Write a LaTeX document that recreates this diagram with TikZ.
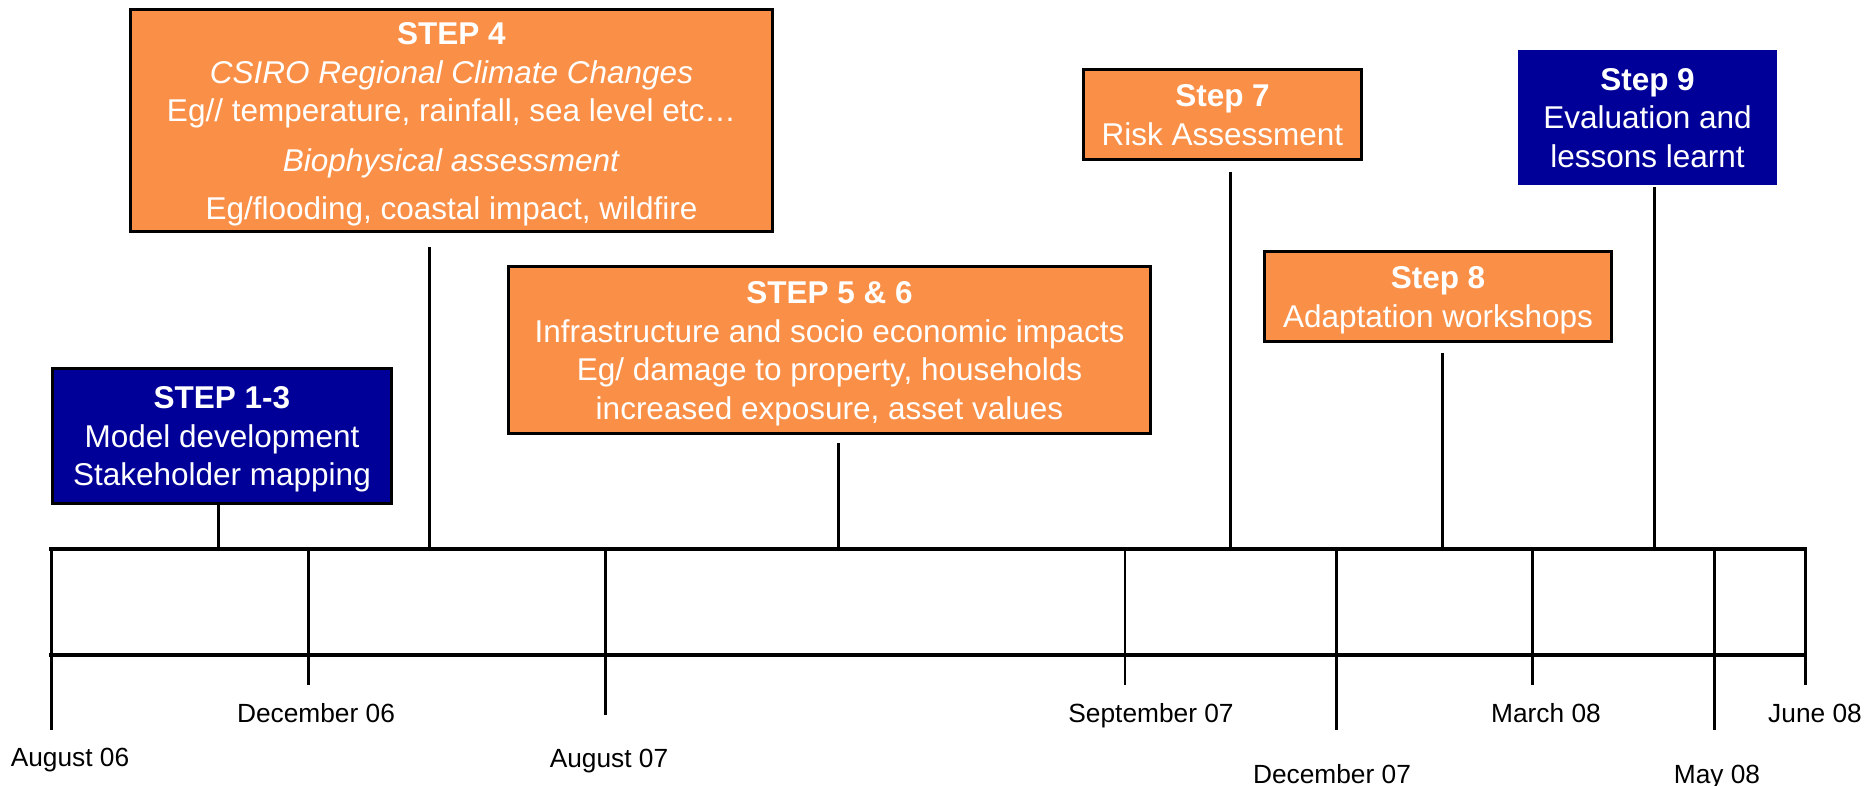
\documentclass[tikz,border=0pt]{standalone}
\usepackage{fontspec}
\setmainfont{Liberation Sans}
\definecolor{boxorange}{RGB}{250,144,72}
\definecolor{boxblue}{RGB}{0,0,153}
\newcommand{\topstrut}{\rule{0pt}{30pt}}
\newcommand{\botstrut}{\rule[-7.45pt]{0pt}{7.45pt}}
\begin{document}
\begin{tikzpicture}[x=1pt,y=-1pt,
  stepbox/.style={draw=black, line width=3pt, inner sep=0pt, align=center, text=white,
    font=\fontsize{31.5}{38.5}\selectfont},
  orangebox/.style={stepbox, fill=boxorange},
  bluebox/.style={stepbox, fill=boxblue},
  conn/.style={line width=3pt},
  axisline/.style={line width=3.5pt, line cap=rect},
  tickline/.style={line width=3pt},
  datelabel/.style={anchor=base, inner sep=0pt, font=\fontsize{26.3}{30}\selectfont}
]
\useasboundingbox (0,0) rectangle (1870,786);

% boxes
\node[bluebox, minimum width=339pt, minimum height=135pt] (s13) at (222,436)
  {{\bfseries\topstrut STEP 1-3}\\Model development\\Stakeholder mapping\botstrut};
\node[orangebox, minimum width=642pt, minimum height=222pt] (s4) at (451.5,120.5)
  {{\bfseries\topstrut STEP 4}\\\textit{CSIRO Regional Climate Changes}\\Eg// temperature, rainfall, sea level etc…\\[11.5pt]\textit{Biophysical assessment}\\[9pt]Eg/flooding, coastal impact, wildfire\botstrut};
\node[orangebox, minimum width=642pt, minimum height=167pt] (s56) at (829.5,350)
  {{\bfseries\topstrut STEP 5 \& 6}\\Infrastructure and socio economic impacts\\Eg/ damage to property, households\\increased exposure, asset values\botstrut};
\node[orangebox, minimum width=278pt, minimum height=90pt] (s7) at (1222.5,114.5)
  {{\bfseries\topstrut Step 7}\\Risk Assessment\botstrut};
\node[orangebox, minimum width=347pt, minimum height=90pt] (s8) at (1438,296.5)
  {{\bfseries\topstrut Step 8}\\Adaptation workshops\botstrut};
\node[bluebox, draw=none, minimum width=259pt, minimum height=135pt] (s9) at (1647.5,117.5)
  {{\bfseries\topstrut Step 9}\\Evaluation and\\lessons learnt\botstrut};

% timeline
\coordinate (tlL) at (51,549);
\coordinate (tlR) at (1805,549);
\coordinate (blL) at (51,655);
\coordinate (blR) at (1805,655);
\draw[axisline] (tlL) -- (tlR);
\draw[axisline] (blL) -- (blR);

% connectors from boxes
\coordinate (k13) at (218,505);
\coordinate (k4) at (429,247);
\coordinate (k56) at (838,443);
\coordinate (k7) at (1230,172);
\coordinate (k8) at (1442,353);
\coordinate (k9) at (1654,187);
\draw[conn] (k13) -- (k13 |- tlL);
\draw[conn] (k4) -- (k4 |- tlL);
\draw[conn] (k56) -- (k56 |- tlL);
\draw[conn] (k7) -- (k7 |- tlL);
\draw[conn] (k8) -- (k8 |- tlL);
\draw[conn] (k9) -- (k9 |- tlL);

% ticks
\coordinate (t1) at (51,730);
\coordinate (t2) at (308,685);
\coordinate (t3) at (605,715);
\coordinate (t4) at (1125,685);
\coordinate (t5) at (1336,730);
\coordinate (t6) at (1532,685);
\coordinate (t7) at (1714,730);
\coordinate (t8) at (1805,685);
\draw[tickline] (t1 |- tlL) -- (t1);
\draw[tickline] (t2 |- tlL) -- (t2);
\draw[tickline] (t3 |- tlL) -- (t3);
\draw[tickline, line width=2.2pt] (t4 |- tlL) -- (t4);
\draw[tickline] (t5 |- tlL) -- (t5);
\draw[tickline] (t6 |- tlL) -- (t6);
\draw[tickline] (t7 |- tlL) -- (t7);
\draw[tickline] (t8 |- tlL) -- (t8);

% date labels
\node[datelabel] (d1) at (70,766) {August 06};
\node[datelabel] (d2) at (316,722) {December 06};
\node[datelabel] (d3) at (609,767) {August 07};
\node[datelabel] (d4) at (1151,722) {September 07};
\node[datelabel] (d5) at (1332,783) {December 07};
\node[datelabel] (d6) at (1546,722) {March 08};
\node[datelabel] (d7) at (1717,783) {May 08};
\node[datelabel] (d8) at (1815,722) {June 08};
\end{tikzpicture}
\end{document}
